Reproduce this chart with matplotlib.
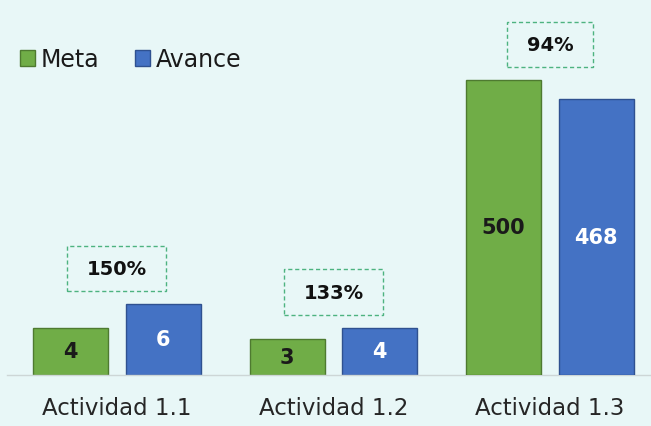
import matplotlib
matplotlib.use('Agg')
import matplotlib.pyplot as plt
from matplotlib.patches import Patch
from matplotlib.path import Path
import numpy as np

categorias = ['Actividad 1.1', 'Actividad 1.2', 'Actividad 1.3']
meta = [4, 3, 500]
avance = [6, 4, 468]
porcentaje = ['150%', '133%', '94%']
# la actividad 1.3 va en su propia escala (eje secundario oculto)
escala_grande = [False, False, True]

FONDO = '#E8F7F7'
VERDE = '#70AD47'
AZUL = '#4472C4'

plt.rcParams['font.family'] = ['DejaVu Sans']

fig = plt.figure(figsize=(6.51, 4.27), dpi=100)
fig.patch.set_facecolor(FONDO)
ax = fig.add_axes([7/651, 51/427, 644/651, 376/427])
ax.set_facecolor(FONDO)
ax2 = ax.twinx()

ax.set_xlim(-0.508, 2.467)
ax.set_ylim(0, 31.7)
ax2.set_ylim(0, 637)

ancho = 0.346
desp = 0.214


def caja(x0, y0, width, height, mutation_size):
    # recuadro con relleno horizontal distinto del vertical
    px = 1.0*mutation_size
    py = 0.68*mutation_size
    x0, y0 = x0 - px, y0 - py
    x1, y1 = x0 + width + 2*px, y0 + height + 2*py
    return Path([(x0, y0), (x1, y0), (x1, y1), (x0, y1), (x0, y0)], closed=True)


x = np.arange(len(categorias))
for i in range(len(categorias)):
    eje = ax2 if escala_grande[i] else ax
    eje.bar(x[i]-desp, meta[i], ancho, color=VERDE, edgecolor='#4E7A30', linewidth=1)
    eje.bar(x[i]+desp, avance[i], ancho, color=AZUL, edgecolor='#2F5190', linewidth=1)
    eje.text(x[i]-desp, meta[i]/2, str(meta[i]), ha='center', va='center',
             fontsize=15, fontweight='bold', color='#1A1A1A')
    eje.text(x[i]+desp, avance[i]/2, str(avance[i]), ha='center', va='center',
             fontsize=15, fontweight='bold', color='white')
    tope = max(meta[i], avance[i])
    eje.annotate(porcentaje[i], xy=(x[i], tope), xytext=(0, 25.5), textcoords='offset points',
                 ha='center', va='center', fontsize=14, fontweight='bold', color='#111111',
                 bbox=dict(boxstyle=caja, facecolor='none', edgecolor='#4DB380',
                           linestyle=(0, (3, 2)), linewidth=1))

for a in (ax, ax2):
    for s in ('top', 'right', 'left'):
        a.spines[s].set_visible(False)
    a.set_yticks([])
ax2.spines['bottom'].set_visible(False)
ax.spines['bottom'].set_color('#CDD6D6')
ax.spines['bottom'].set_linewidth(1)

ax.set_xticks(x)
ax.set_xticklabels(categorias, fontsize=16.5, color='#262626')
ax.tick_params(axis='x', length=0, pad=15)

handles = [Patch(facecolor=VERDE, edgecolor='#4E7A30', label='Meta'),
           Patch(facecolor=AZUL, edgecolor='#2F5190', label='Avance')]
fig.legend(handles=handles, loc='upper left', bbox_to_anchor=(20/651, 1-48/427),
           ncol=2, frameon=False, fontsize=17, handlelength=0.64, handleheight=0.64,
           handletextpad=0.25, columnspacing=1.5, borderpad=0, borderaxespad=0,
           labelcolor='#1A1A1A')

fig.savefig('out.png', dpi=100, facecolor=FONDO)
